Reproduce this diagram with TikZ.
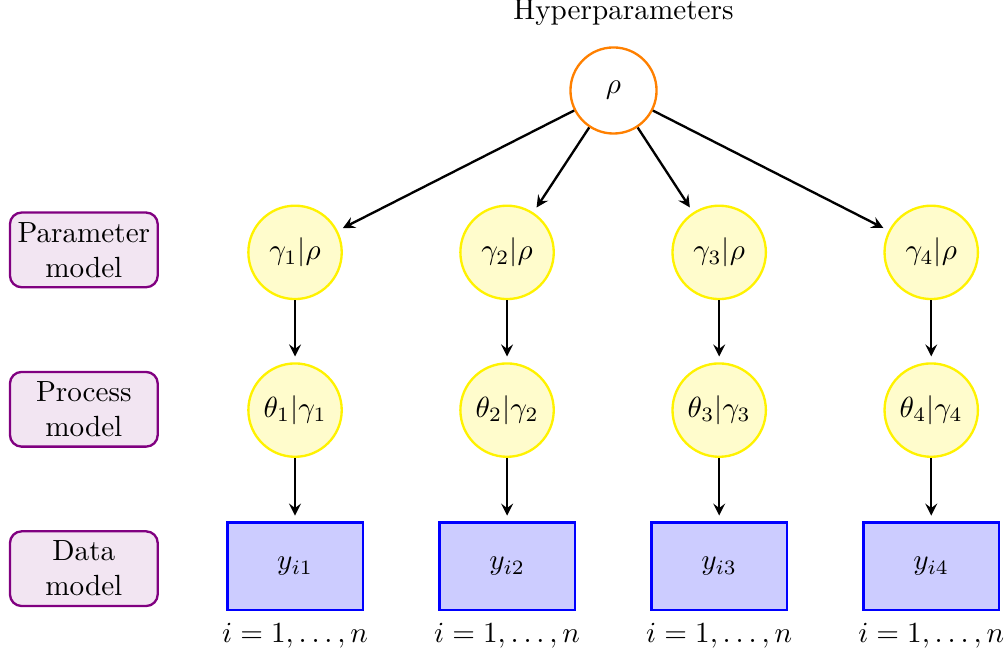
\documentclass[tikz,border=0pt]{standalone}
\usepackage{amsmath}
\usepackage{tikz}
\usetikzlibrary{arrows}

\begin{document}
\begin{tikzpicture}[
        hyper/.style={circle, draw=orange, thick, fill=white, minimum size=29.5pt, inner sep=0pt},
        param/.style={circle, draw=yellow, thick, fill=yellow!20, minimum size=32pt, inner sep=0pt},
        datum/.style={rectangle, draw=blue, thick, fill=blue!20, minimum width=1.63cm, minimum height=1.05cm},
        level/.style={rectangle, rounded corners=4pt, draw=violet, thick, fill=violet!10, minimum width=1.78cm, minimum height=0.9cm, align=center, inner sep=0.5pt},
        edge/.style={-stealth, thick, shorten >=2pt}
    ]
        \useasboundingbox (0,0) rectangle (12.13,-7.916);
        \node (title) at (7.51,-0.15) {Hyperparameters};
        \node[hyper] (rho) at (7.39,-1.09) {$\rho$};
        % levels on the left
        \node[level] (lp) at (1.01,-3.01) {Parameter\\model};
        \node[level] (lq) at (1.01,-4.93) {Process\\model};
        \node[level] (ld) at (1.01,-6.85) {Data\\model};
        % one column per group
        \foreach \k/\x in {1/3.554, 2/6.108, 3/8.663, 4/11.217} {
            \node[param] (g\k) at (\x,-3.04) {$\gamma_{\k}|\rho$};
            \node[param] (t\k) at (\x,-4.94) {$\theta_{\k}|\gamma_{\k}$};
            \node[datum] (y\k) at (\x,-6.82) {$y_{i\k}$};
            \node (n\k) at (\x,-7.66) {$i=1,\dots,n$};
            \draw[edge] (rho) -- (g\k);
            \draw[edge] (g\k) -- (t\k);
            \draw[edge] (t\k) -- (y\k);
        }
    \end{tikzpicture}
\end{document}
